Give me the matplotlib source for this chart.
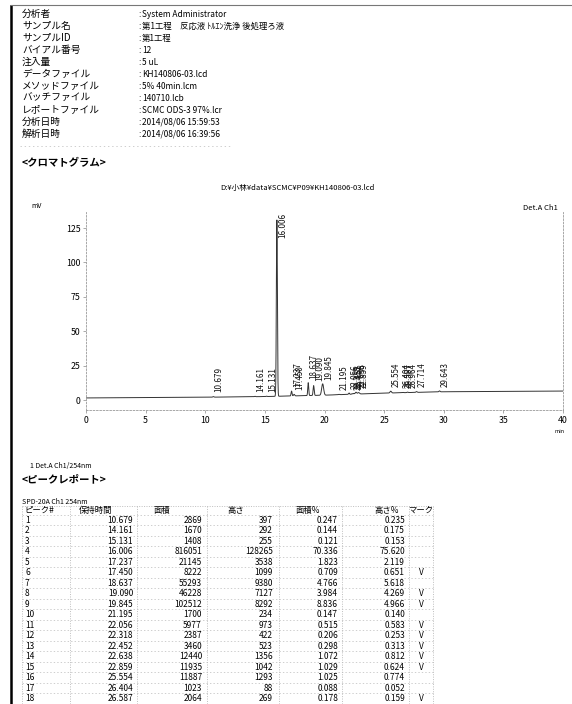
import matplotlib
matplotlib.use("Agg")
import matplotlib.pyplot as plt
import numpy as np
from matplotlib.lines import Line2D

plt.rcParams['font.family'] = ['Noto Sans CJK JP', 'DejaVu Sans']

W, H = 572, 704

# sample information block
info_labels = ["分析者", "サンプル名", "サンプルID", "バイアル番号", "注入量",
               "データファイル", "メソッドファイル", "バッチファイル",
               "レポートファイル", "分析日時", "解析日時"]
info_values = ["System Administrator",
               "第1工程　反応液 ﾄﾙｴﾝ洗浄 後処理ろ液",
               "第1工程", "12", "5 uL", "KH140806-03.lcd", "5% 40min.lcm",
               "140710.lcb", "SCMC ODS-3 97%.lcr",
               "2014/08/06 15:59:53", "2014/08/06 16:39:56"]

data_path = "D:¥小林¥data¥SCMC¥P09¥KH140806-03.lcd"

# peak table (area in uV*s, height in uV)
peak_rt = [10.679, 14.161, 15.131, 16.006, 17.237, 17.450, 18.637, 19.090,
           19.845, 21.195, 22.056, 22.318, 22.452, 22.638, 22.859, 25.554,
           26.404, 26.587, 26.964, 27.714, 29.643]
peak_area = [2869, 1670, 1408, 816051, 21145, 8222, 55293, 46228,
             102512, 1700, 5977, 2387, 3460, 12440, 11935, 11887,
             1023, 2064, 2500, 4100, 5200]
peak_height = [397, 292, 255, 128265, 3538, 1099, 9380, 7127,
               8292, 234, 973, 422, 523, 1356, 1042, 1293,
               88, 269, 330, 560, 700]
area_pct = [0.247, 0.144, 0.121, 70.336, 1.823, 0.709, 4.766, 3.984,
            8.836, 0.147, 0.515, 0.206, 0.298, 1.072, 1.029, 1.025,
            0.088, 0.178, 0.215, 0.353, 0.448]
height_pct = [0.235, 0.175, 0.153, 75.620, 2.119, 0.651, 5.618, 4.269,
              4.966, 0.140, 0.583, 0.253, 0.313, 0.812, 0.624, 0.774,
              0.052, 0.159, 0.195, 0.330, 0.413]
peak_mark = ["", "", "", "", "", "V", "", "V", "V", "", "V", "V", "V", "V",
             "V", "", "", "V", "V", "", ""]

# baseline drift of the detector trace (mV)
base_t = [0, 10, 15, 20, 25, 30, 40]
base_mv = [1.5, 2.0, 2.5, 3.5, 5.0, 6.0, 6.5]

x_ticks = [0, 5, 10, 15, 20, 25, 30, 35, 40]
y_ticks = [0, 25, 50, 75, 100, 125]

table_cols = ["ピーク#", "保持時間", "面積", "高さ", "面積%", "高さ%", "マーク"]


fig = plt.figure(figsize=(W / 100, H / 100), dpi=100)
fig.patch.set_facecolor("white")


def fx(x):
    return x / W


def fy(y):
    return 1 - y / H


def put(x, y, s, **kw):
    # y is the text centre in page pixels; draw on the baseline so that
    # kana, kanji and digits on one row line up
    kw.setdefault("va", "baseline")
    fs = kw.get("fontsize", 6)
    fig.text(fx(x), fy(y + fs * 0.45), s, **kw)


def hline(x0, x1, y, **kw):
    fig.add_artist(Line2D([fx(x0), fx(x1)], [fy(y), fy(y)], **kw))


def vline(x, y0, y1, **kw):
    fig.add_artist(Line2D([fx(x), fx(x)], [fy(y0), fy(y1)], **kw))


# page frame
vline(11, 6, H, color="black", lw=1.8)
hline(11, W, 5, color="#777777", lw=0.8)

# header block
for i, (lab, val) in enumerate(zip(info_labels, info_values)):
    y = 14 + i * 12
    put(22, y, lab, fontsize=7, color="black")
    put(138, y, ":", fontsize=6, color="black")
    put(142, y, val, fontsize=6, color="black")
hline(20, 230, 146, color="#bbbbbb", lw=0.5, ls=(0, (2, 4)))

put(22, 163, "<クロマトグラム>", fontsize=7.5, fontweight="bold")
put(297, 188, data_path, fontsize=5.5, ha="center")
put(31, 206, "mV", fontsize=5)
put(558, 208, "Det.A Ch1", fontsize=5.5, ha="right")

# chromatogram
y0_px, mv_px = 400, 1.376
ax = fig.add_axes([fx(86), fy(410), (563 - 86) / W, (410 - 212) / H])
ax.set_xlim(0, 40)
ax.set_ylim(-(410 - y0_px) / mv_px, (y0_px - 212) / mv_px)

t = np.arange(0, 40.0001, 0.004)
trace = np.interp(t, base_t, base_mv)
for rt, area, h in zip(peak_rt, peak_area, peak_height):
    sig = area / (h * np.sqrt(2 * np.pi)) / 60.0
    trace = trace + h / 1000.0 * np.exp(-0.5 * ((t - rt) / sig) ** 2)
ax.plot(t, trace, color="#333333", lw=0.7)

top = ax.get_ylim()[1]
for rt, h in zip(peak_rt, peak_height):
    apex = np.interp(rt, base_t, base_mv) + h / 1000.0
    if apex + 22 > top:
        ax.text(rt + 0.5, top - 0.5, "%.3f" % rt, rotation=90, fontsize=5.8,
                ha="center", va="top", color="#111111")
    else:
        ax.text(rt + 0.5, apex + 3, "%.3f" % rt, rotation=90, fontsize=5.8,
                ha="center", va="bottom", color="#111111")

for side in ["left", "bottom", "right", "top"]:
    ax.spines[side].set_color("#999999")
    ax.spines[side].set_linewidth(0.6)
    ax.spines[side].set_linestyle((0, (2, 2)))
ax.spines["top"].set_visible(False)
ax.set_xticks(x_ticks)
ax.set_yticks(y_ticks)
ax.tick_params(length=2, width=0.5, color="#888888", labelsize=6.3, pad=2)
ax.set_facecolor("none")

put(560, 431, "min", fontsize=4, ha="center")
put(30, 466, "1 Det.A Ch1/254nm", fontsize=5)
put(22, 479, "<ピークレポート>", fontsize=7.5, fontweight="bold")

# peak report table
put(22, 502, "SPD-20A Ch1 254nm", fontsize=5)
col_edges = [22, 70, 137, 207, 279, 342, 409, 433]
head_x = [24, 96, 162, 236, 308, 387, 421]
row0, row_h = 520, 10.5
put(head_x[0], 510, table_cols[0], fontsize=6)
for hx, name in zip(head_x[1:], table_cols[1:]):
    put(hx, 510, name, fontsize=6, ha="center")

for e in col_edges:
    vline(e, 506, H, color="#aaaaaa", lw=0.5, ls=(0, (1.5, 2)))
hline(col_edges[0], col_edges[-1], 506, color="#aaaaaa", lw=0.5,
      ls=(0, (1.5, 2)))

# rows below the page edge are not printed
n_rows = sum(1 for i in range(len(peak_rt)) if row0 + i * row_h < H)
for i in range(n_rows + 1):
    hline(col_edges[0], col_edges[-1], row0 - row_h / 2 + i * row_h,
          color="#bbbbbb", lw=0.5, ls=(0, (2, 3)))

for i in range(n_rows):
    y = row0 + i * row_h
    put(25, y, str(i + 1), fontsize=6)
    put(133, y, "%.3f" % peak_rt[i], fontsize=6, ha="right")
    put(202, y, str(peak_area[i]), fontsize=6, ha="right")
    put(273, y, str(peak_height[i]), fontsize=6, ha="right")
    put(338, y, "%.3f" % area_pct[i], fontsize=6, ha="right")
    put(405, y, "%.3f" % height_pct[i], fontsize=6, ha="right")
    put(421, y, peak_mark[i], fontsize=6, ha="center")

fig.savefig("out.png", dpi=100, facecolor="white")
